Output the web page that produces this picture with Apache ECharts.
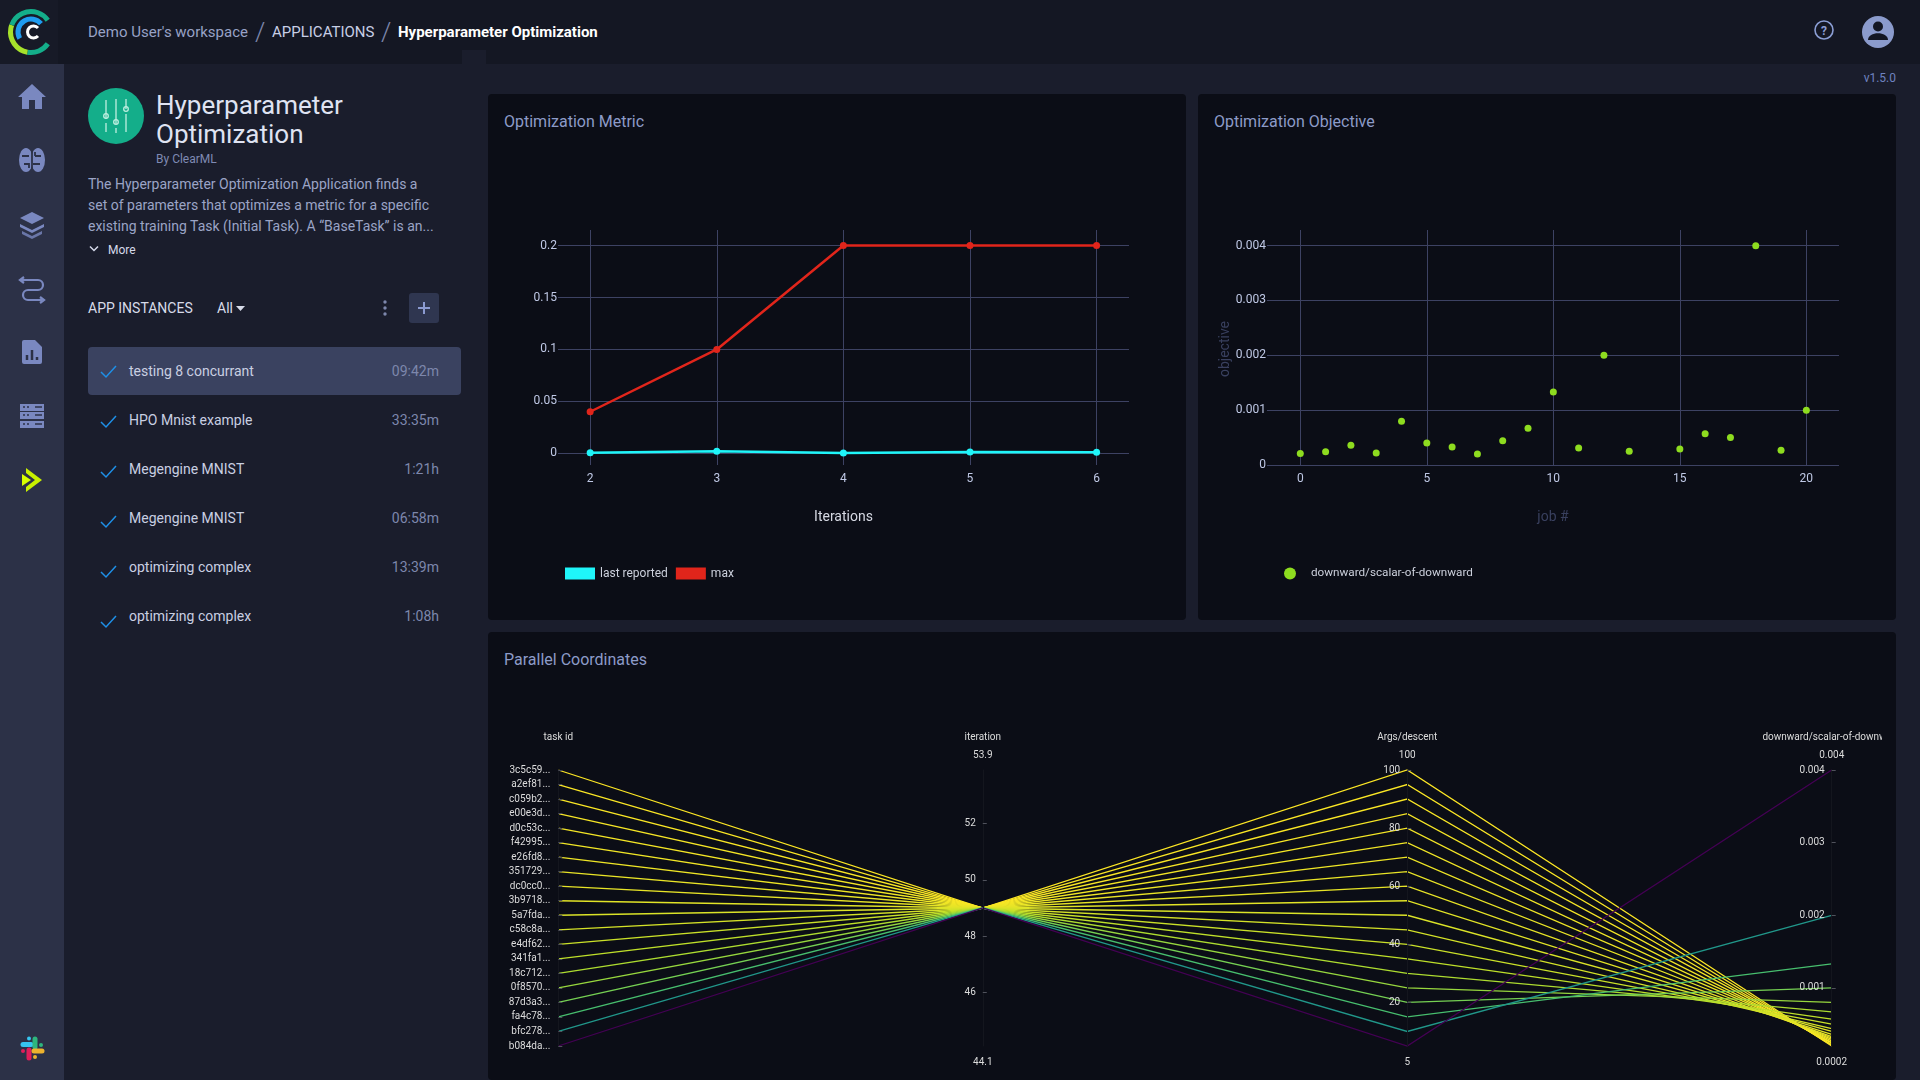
<!DOCTYPE html>
<html>
<head>
<meta charset="utf-8">
<title>Hyperparameter Optimization</title>
<script src="https://cdn.jsdelivr.net/npm/echarts@6/dist/echarts.min.js"></script>
<style>
  html, body { margin: 0; width: 1920px; height: 1080px; overflow: hidden; background: #1a1d2c; font-family: Roboto, sans-serif; }
  .box { position: absolute; }
  .t { position: absolute; white-space: nowrap; transform: translateY(-50%); }
  .r { transform: translate(-100%, -50%); }
  .panel { position: absolute; background: #0b0d16; border-radius: 4px; }
  .ptitle { color: #8d9bc8; font-size: 16px; }
  svg { position: absolute; overflow: visible; }
</style>
</head>
<body>
<!-- top bar and sidebar -->
<div class="box" style="left:0;top:0;width:1920px;height:64px;background:#141723"></div>
<div class="box" style="left:0;top:64px;width:64px;height:1016px;background:#2c3147"></div>
<div class="box" style="left:0;top:0;width:58px;height:64px;background:#171a27"></div>
<div class="box" style="left:462px;top:50px;width:24px;height:14px;background:#1a1d2c"></div>

<svg style="left:0;top:0" width="64" height="64" fill="none">
  <circle cx="31" cy="32" r="20.500" stroke="#14ae8a" stroke-width="5" pathLength="360" stroke-dasharray="65 295" transform="rotate(35 31 32)"/>
  <circle cx="31" cy="32" r="20.500" stroke="#a6e22b" stroke-width="5" pathLength="360" stroke-dasharray="100 260" transform="rotate(100 31 32)"/>
  <circle cx="31" cy="32" r="20.500" stroke="#14ae8a" stroke-width="5" pathLength="360" stroke-dasharray="125 235" transform="rotate(200 31 32)"/>
  <circle cx="31" cy="32" r="13" stroke="#1f9cf0" stroke-width="5" pathLength="360" stroke-dasharray="170 190" transform="rotate(150 31 32)"/>
  <path d="M38 28a6 6 0 1 0 0 8" stroke="#fff" stroke-width="3"/>
</svg>
<svg style="left:0;top:64px" width="64" height="1016" fill="#7a88c0">
  <path d="M32 20l14 13h-4v12h-7v-9h-6v9h-7V33h-4z"/>
  <ellipse cx="26" cy="96" rx="7" ry="12"/><ellipse cx="38" cy="96" rx="7" ry="12"/>
  <path d="M32 86v20M22 92h7M33 100h7M24 100h5v4M35 92h6M35 88v4" fill="none" stroke="#2c3147" stroke-width="1.800"/>
  <path d="M32 148l12 6-12 6-12-6z"/><path d="M20 160l12 6 12-6v3l-12 6-12-6z"/><path d="M22 167l10 5 10-5v3l-10 5-10-5z" opacity=".8"/>
  <path d="M20 216h18a5 5 0 0 1 0 10H28a5 5 0 0 0 0 10h14M24 213l-4 3 4 3M40 233l4 3-4 3" fill="none" stroke="#7a88c0" stroke-width="2.200"/>
  <path d="M22 278a2 2 0 0 1 2-2h11l7 7v15a2 2 0 0 1-2 2H24a2 2 0 0 1-2-2z"/>
  <path d="M27 296v-5M32 296v-10M37 296v-3" stroke="#2c3147" stroke-width="2.500"/>
  <rect x="20" y="340" width="24" height="7"/><rect x="20" y="348" width="24" height="7"/><rect x="20" y="357" width="24" height="7"/>
  <path d="M23 343h2M27 343h2M35 343h7M23 351h2M27 351h2M35 351h7M23 360h2M27 360h2M35 360h7" stroke="#2c3147" stroke-width="1.500"/>
  <path d="M26 404l16 12-16 12v-5l9-7-9-7z" fill="#c8f000"/><path d="M22 410l9 6-9 6z" fill="#d8ff00"/>
</svg>
<svg style="left:20px;top:1036px" width="24" height="24" fill="none" stroke-linecap="round" stroke-width="5">
  <path d="M3 8.500h8" stroke="#36c5f0"/><circle cx="9" cy="2.500" r="2" fill="#36c5f0" stroke="none"/>
  <path d="M15 3v8" stroke="#2eb67d"/><circle cx="21" cy="9" r="2" fill="#2eb67d" stroke="none"/>
  <path d="M9 14v8" stroke="#e01e5a"/><circle cx="3" cy="15" r="2" fill="#e01e5a" stroke="none"/>
  <path d="M14 15h8" stroke="#ecb22e"/><circle cx="15" cy="21" r="2" fill="#ecb22e" stroke="none"/>
</svg>

<div class="t" style="left:88px;top:32px;font-size:15px;color:#98a2c6">Demo User's workspace</div>
<div class="t" style="left:255px;top:32px;font-size:26px;font-weight:300;color:#7d87ac">/</div>
<div class="t" style="left:272px;top:32px;font-size:15px;color:#c8cfe6">APPLICATIONS</div>
<div class="t" style="left:381px;top:32px;font-size:26px;font-weight:300;color:#7d87ac">/</div>
<div class="t" style="left:398px;top:32px;font-size:15px;font-weight:700;color:#fff">Hyperparameter Optimization</div>

<svg style="left:1810px;top:16px" width="100" height="36" fill="none">
  <circle cx="14" cy="14" r="9" stroke="#8b9ed4" stroke-width="1.600"/>
  <text x="14" y="18.500" text-anchor="middle" font-size="12" font-weight="700" fill="#8b9ed4" font-family="Roboto">?</text>
  <circle cx="68" cy="16" r="16" fill="#8b9bcc"/>
  <circle cx="68" cy="10.500" r="5" fill="#141723"/>
  <path d="M58 24c0-9 20-9 20 0z" fill="#141723"/>
</svg>
<div class="t r" style="left:1896px;top:78px;font-size:12px;color:#6f83c0">v1.5.0</div>

<!-- application info -->
<svg style="left:88px;top:88px" width="56" height="56" fill="none" stroke="#bfeee0" stroke-width="1.300">
  <circle cx="28" cy="28" r="28" fill="#14ae8a" stroke="none"/>
  <path d="M18 12v19M18 35v9M28 11v25M28 40v5M38 11v10M38 26v18"/>
  <circle cx="18" cy="28" r="2.300"/><circle cx="28" cy="34" r="2.300"/><circle cx="38" cy="21" r="2.300"/>
</svg>
<div class="t" style="left:156px;top:105px;font-size:26px;color:#dfe3f2">Hyperparameter</div>
<div class="t" style="left:156px;top:134px;font-size:26px;color:#dfe3f2">Optimization</div>
<div class="t" style="left:156px;top:158.500px;font-size:12px;color:#7f8ab3">By ClearML</div>
<div class="t" style="left:88px;top:184px;font-size:14px;color:#9ba4c6">The Hyperparameter Optimization Application finds a</div>
<div class="t" style="left:88px;top:205px;font-size:14px;color:#9ba4c6">set of parameters that optimizes a metric for a specific</div>
<div class="t" style="left:88px;top:226px;font-size:14px;color:#9ba4c6">existing training Task (Initial Task). A “BaseTask” is an...</div>
<svg style="left:89px;top:245px" width="10" height="8" fill="none" stroke="#d5d9ea" stroke-width="1.500"><path d="M1 1.500l4 4 4-4"/></svg>
<div class="t" style="left:108px;top:249.500px;font-size:12px;color:#d5d9ea">More</div>
<div class="t" style="left:88px;top:307.500px;font-size:14px;color:#d7dbe9">APP INSTANCES</div>
<div class="t" style="left:217px;top:307.500px;font-size:14px;color:#d7dbe9">All</div>
<svg style="left:236px;top:306px" width="10" height="6" fill="#d7dbe9"><path d="M0 0h9l-4.500 5z"/></svg>
<svg style="left:383px;top:300px" width="4" height="16" fill="#7d87ac"><circle cx="2" cy="2" r="1.700"/><circle cx="2" cy="8" r="1.700"/><circle cx="2" cy="14" r="1.700"/></svg>
<div class="box" style="left:409px;top:293px;width:30px;height:30px;border-radius:3px;background:#2f3650"></div>
<svg style="left:418px;top:302px" width="12" height="12" stroke="#8b9ad0" stroke-width="2"><path d="M6 0v12M0 6h12"/></svg>

<div class="box" style="left:88px;top:347px;width:373px;height:48px;border-radius:4px;background:#3a4260"></div>
<div id="instances"></div>

<!-- chart panels -->
<div class="panel" style="left:488px;top:94px;width:698px;height:526px"></div>
<div class="panel" style="left:1198px;top:94px;width:698px;height:526px"></div>
<div class="panel" style="left:488px;top:632px;width:1408px;height:448px"></div>
<div class="t ptitle" style="left:504px;top:121px">Optimization Metric</div>
<div class="t ptitle" style="left:1214px;top:121px">Optimization Objective</div>
<div class="t ptitle" style="left:504px;top:659px">Parallel Coordinates</div>

<div id="metric" class="box" style="left:488px;top:94px;width:698px;height:526px"></div>
<div id="objective" class="box" style="left:1198px;top:94px;width:698px;height:526px"></div>
<div id="parallel" class="box" style="left:490px;top:632px;width:1392px;height:448px"></div>

<script>
// left list
const instanceNames = ['testing 8 concurrant', 'HPO Mnist example', 'Megengine MNIST', 'Megengine MNIST', 'optimizing complex', 'optimizing complex'];
const instanceTimes = ['09:42m', '33:35m', '1:21h', '06:58m', '13:39m', '1:08h'];

// optimization metric
const iterations = [2, 3, 4, 5, 6];
const lastReported = [0.0005, 0.002, 0.0002, 0.0012, 0.001];
const maxMetric = [0.04, 0.1, 0.2, 0.2, 0.2];
const metricTicks = [0, 0.05, 0.1, 0.15, 0.2];

// optimization objective, job 14 has no point
const jobs = [0, 1, 2, 3, 4, 5, 6, 7, 8, 9, 10, 11, 12, 13, 15, 16, 17, 18, 19, 20];
const jobObjective = [0.00021, 0.00024, 0.00036, 0.00022, 0.0008, 0.0004, 0.00033, 0.0002, 0.00044, 0.00067, 0.00133, 0.00031, 0.002, 0.00025, 0.00029, 0.00057, 0.0005, 0.004, 0.00027, 0.001];
const jobTicks = [0, 5, 10, 15, 20];
const objectiveTicks = [0, 0.001, 0.002, 0.003, 0.004];

// parallel coordinates, top to bottom on the task axis
const taskIds = ['3c5c59...', 'a2ef81...', 'c059b2...', 'e00e3d...', 'd0c53c...', 'f42995...', 'e26fd8...', '351729...', 'dc0cc0...', '3b9718...', '5a7fda...', 'c58c8a...', 'e4df62...', '341fa1...', '18c712...', '0f8570...', '87d3a3...', 'fa4c78...', 'bfc278...', 'b084da...'];
const taskIteration = [49, 49, 49, 49, 49, 49, 49, 49, 49, 49, 49, 49, 49, 49, 49, 49, 49, 49, 49, 49];
const taskDescent = [100, 95, 90, 85, 80, 75, 70, 65, 60, 55, 50, 45, 40, 35, 30, 25, 20, 15, 10, 5];
const taskObjective = [0.0002, 0.00021, 0.00022, 0.00024, 0.00025, 0.00027, 0.00029, 0.00031, 0.00033, 0.00036, 0.0004, 0.00044, 0.0005, 0.00057, 0.00067, 0.0008, 0.001, 0.00133, 0.002, 0.004];
const iterationTicks = [46, 48, 50, 52];
const descentTicks = [20, 40, 60, 80, 100];
const scalarTicks = [0.001, 0.002, 0.003, 0.004];

document.getElementById('instances').innerHTML = instanceNames.map(function (name, i) {
  var y = 371 + i * 49;
  return '<svg style="left:100px;top:' + (365 + i * 50) + 'px" width="17" height="13" fill="none" stroke="#1e8fe6" stroke-width="1.500"><path d="M1 7l5 5L16 1"/></svg>' +
    '<div class="t" style="left:129px;top:' + y + 'px;font-size:14px;color:#c9cfe2">' + name + '</div>' +
    '<div class="t r" style="left:439px;top:' + y + 'px;font-size:14px;color:#7d87ac">' + instanceTimes[i] + '</div>';
}).join('');

const gridColor = '#3d4263';
const tickColor = '#c0c9e6';

function cartesianAxis(min, max, ticks, extra) {
  return Object.assign({
    type: 'value',
    min: min,
    max: max,
    axisLine: { show: false },
    axisTick: { show: false, customValues: ticks },
    axisLabel: { color: tickColor, fontSize: 12, fontFamily: 'Roboto', margin: 1, customValues: ticks },
    splitLine: { show: true, customValues: ticks, lineStyle: { color: gridColor, width: 1 } }
  }, extra);
}

var metricChart = echarts.init(document.getElementById('metric'));
metricChart.setOption({
  animation: false,
  grid: { left: 70, top: 136, width: 571, height: 235 },
  legend: {
    left: 72, top: 468.500, itemWidth: 30, itemHeight: 12, itemGap: 8, icon: 'rect',
    textStyle: { color: '#ccd0dc', fontSize: 12, fontFamily: 'Roboto' },
    data: ['last reported', 'max']
  },
  xAxis: cartesianAxis(1.746, 6.256, iterations, {
    name: 'Iterations', nameLocation: 'middle', nameGap: 45,
    nameTextStyle: { color: '#d5d8e2', fontSize: 14, fontFamily: 'Roboto' },
    axisLabel: { color: tickColor, fontSize: 12, fontFamily: 'Roboto', margin: 8, customValues: iterations }
  }),
  yAxis: cartesianAxis(-0.01127, 0.215, metricTicks),
  series: [
    {
      name: 'last reported', type: 'line', color: '#1ff5f9', symbol: 'circle', symbolSize: 7,
      lineStyle: { width: 2.500 },
      data: iterations.map(function (x, i) { return [x, lastReported[i]]; })
    },
    {
      name: 'max', type: 'line', color: '#e1251b', symbol: 'circle', symbolSize: 7,
      lineStyle: { width: 2.500 },
      data: iterations.map(function (x, i) { return [x, maxMetric[i]]; })
    }
  ]
});

var objectiveChart = echarts.init(document.getElementById('objective'));
objectiveChart.setOption({
  animation: false,
  grid: { left: 69, top: 136, width: 572, height: 235 },
  legend: {
    left: 81, top: 468.500, itemWidth: 12, itemHeight: 12, icon: 'circle',
    textStyle: { color: '#ccd0dc', fontSize: 11.7, fontFamily: 'Roboto', padding: [0, 0, 0, 10] },
    data: ['downward/scalar-of-downward']
  },
  xAxis: cartesianAxis(-1.316, 21.29, jobTicks, {
    name: 'job #', nameLocation: 'middle', nameGap: 45,
    nameTextStyle: { color: '#39405f', fontSize: 14, fontFamily: 'Roboto' },
    axisLabel: { color: tickColor, fontSize: 12, fontFamily: 'Roboto', margin: 8, customValues: jobTicks }
  }),
  yAxis: cartesianAxis(0, 0.004285, objectiveTicks, {
    name: 'objective', nameLocation: 'middle', nameGap: 35, nameMoveOverlap: false,
    nameTextStyle: { color: '#39405f', fontSize: 14, fontFamily: 'Roboto', padding: [0, 3, 0, 0] }
  }),
  series: [{
    name: 'downward/scalar-of-downward', type: 'scatter', color: '#8edc1f', symbolSize: 7,
    itemStyle: { opacity: 1 },
    data: jobs.map(function (x, i) { return [x, jobObjective[i]]; })
  }]
});

// the min and max of each axis are printed above and below it
function parallelName(title, top) {
  return '{n|' + title + '}\n{r|' + top + '}';
}
const parallelTextStyle = {
  color: '#dcdcdc', fontSize: 10, fontFamily: 'Roboto',
  rich: {
    n: { color: '#dcdcdc', fontSize: 10, fontFamily: 'Roboto', lineHeight: 18 },
    r: { color: '#dcdcdc', fontSize: 10, fontFamily: 'Roboto', lineHeight: 18 }
  }
};
function numericAxis(dim, title, min, max, ticks, maxText) {
  return {
    dim: dim, type: 'value', min: min, max: max,
    name: parallelName(title, maxText), nameLocation: 'end', nameGap: 6,
    nameTextStyle: parallelTextStyle,
    axisTick: { customValues: ticks },
    axisLabel: { customValues: ticks }
  };
}

const parallelLeft = 68.3, parallelRight = 50.3, parallelBottom = 34;
const axisSpacing = (1392 - parallelLeft - parallelRight) / 3;
const minTexts = ['44.1', '5', '0.0002'];

var parallelChart = echarts.init(document.getElementById('parallel'));
parallelChart.setOption({
  animation: false,
  parallel: {
    left: parallelLeft, right: parallelRight, top: 138, bottom: parallelBottom,
    parallelAxisDefault: {
      axisLine: { lineStyle: { color: '#14161e', width: 1 } },
      axisTick: { inside: false, length: 4, lineStyle: { color: '#50525c' } },
      // parallel axes print on the right, a negative margin moves the labels left
      axisLabel: { align: 'right', color: '#dcdcdc', fontSize: 10, fontFamily: 'Roboto', margin: -7, showMinLabel: true, showMaxLabel: true }
    }
  },
  parallelAxis: [
    {
      dim: 0, type: 'category', data: taskIds, inverse: true, boundaryGap: false,
      name: 'task id', nameLocation: 'start', nameGap: 28,
      nameTextStyle: { color: '#dcdcdc', fontSize: 10, fontFamily: 'Roboto' },
      axisLabel: { interval: 0, margin: -8 }, axisTick: { alignWithLabel: true, interval: 0 }
    },
    numericAxis(1, 'iteration', 44.1, 53.9, iterationTicks, '53.9'),
    numericAxis(2, 'Args/descent', 5, 100, descentTicks, '100'),
    numericAxis(3, 'downward/scalar-of-downward', 0.0002, 0.004, scalarTicks, '0.004')
  ],
  visualMap: {
    show: false, type: 'continuous', dimension: 3, min: 0.0002, max: 0.004,
    inRange: { color: ['#fde725', '#b5de2b', '#6ece58', '#35b779', '#1f9e89', '#26828e', '#31688e', '#3e4989', '#482878', '#440154'] }
  },
  graphic: minTexts.map(function (text, i) {
    return {
      type: 'text', x: parallelLeft + axisSpacing * (i + 1), y: 430,
      style: { text: text, align: 'center', verticalAlign: 'middle', fill: '#dcdcdc', font: '10px Roboto' }
    };
  }),
  series: [{
    type: 'parallel',
    lineStyle: { width: 1.3, opacity: 1 },
    data: taskIds.map(function (id, i) { return [id, taskIteration[i], taskDescent[i], taskObjective[i]]; })
  }]
});
</script>
</body>
</html>
